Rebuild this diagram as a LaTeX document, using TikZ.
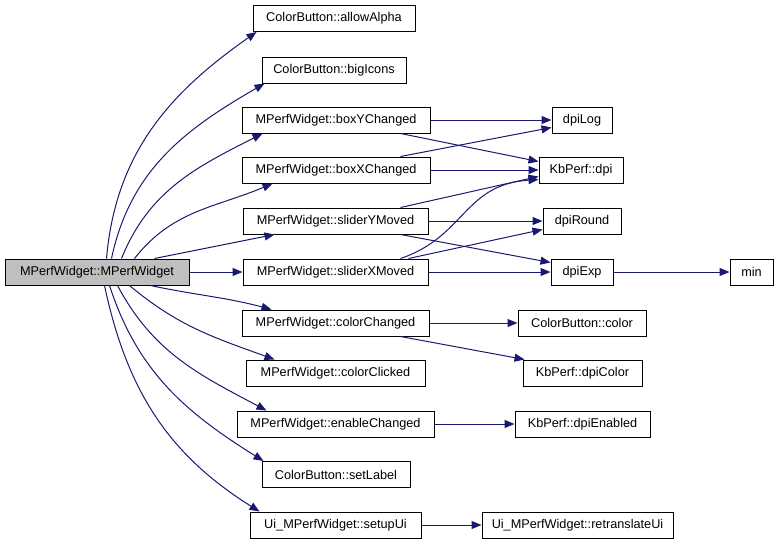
\documentclass[tikz,border=0pt]{standalone}
\usepackage{fontspec}
\setmainfont{Liberation Sans}
\usepackage{tikz}
\usetikzlibrary{arrows.meta, calc}
\definecolor{edgeblue}{HTML}{191970}
\definecolor{maingray}{HTML}{BFBFBF}

\begin{document}
\begin{tikzpicture}[
    x=1pt, y=1pt,
    every node/.style={font=\fontsize{12.7}{15}\selectfont},
    fn/.style={rectangle, draw=black, line width=1pt, fill=white,
               minimum height=26pt, inner sep=0pt},
    edge/.style={draw=edgeblue, line width=1pt,
                 -{Triangle[length=10pt, width=8pt]}},
]
\useasboundingbox (0,0) rectangle (779,-544);

% caller
\node[fn, fill=maingray, minimum width=184pt] (main) at (97,-272) {MPerfWidget::MPerfWidget};

% first level
\node[fn, minimum width=162pt] (allowAlpha)    at (334,-18.5) {ColorButton::allowAlpha};
\node[fn, minimum width=144pt] (bigIcons)      at (334,-70)   {ColorButton::bigIcons};
\node[fn, minimum width=188pt] (boxY)          at (336,-120)  {MPerfWidget::boxYChanged};
\node[fn, minimum width=188pt] (boxX)          at (336,-170)  {MPerfWidget::boxXChanged};
\node[fn, minimum width=185pt] (sliderY)       at (335.5,-221) {MPerfWidget::sliderYMoved};
\node[fn, minimum width=185pt] (sliderX)       at (335.5,-272) {MPerfWidget::sliderXMoved};
\node[fn, minimum width=187pt] (colorChanged)  at (335.5,-323) {MPerfWidget::colorChanged};
\node[fn, minimum width=179pt] (colorClicked)  at (335.5,-373) {MPerfWidget::colorClicked};
\node[fn, minimum width=197pt] (enableChanged) at (335.5,-424) {MPerfWidget::enableChanged};
\node[fn, minimum width=148pt] (setLabel)      at (336,-474.5) {ColorButton::setLabel};
\node[fn, minimum width=171pt] (setupUi)       at (335.5,-525) {Ui\_MPerfWidget::setupUi};

% second level
\node[fn, minimum width=60pt]  (dpiLog)        at (582,-120)   {dpiLog};
\node[fn, minimum width=84pt]  (dpi)           at (581,-170)   {KbPerf::dpi};
\node[fn, minimum width=78pt]  (dpiRound)      at (582,-221)   {dpiRound};
\node[fn, minimum width=62pt]  (dpiExp)        at (582,-272)   {dpiExp};
\node[fn, minimum width=128pt] (color)         at (582,-323)   {ColorButton::color};
\node[fn, minimum width=119pt] (dpiColor)      at (582.5,-373) {KbPerf::dpiColor};
\node[fn, minimum width=135pt] (dpiEnabled)    at (582.5,-424) {KbPerf::dpiEnabled};
\node[fn, minimum width=191pt] (retranslateUi) at (577.5,-525) {Ui\_MPerfWidget::retranslateUi};
\node[fn, minimum width=43pt]  (min)           at (751.5,-272) {min};

% straight calls
\foreach \a/\b in {main/sliderX, boxY/dpiLog, boxX/dpi, sliderY/dpiRound,
                   sliderX/dpiExp, dpiExp/min, colorChanged/color,
                   enableChanged/dpiEnabled, setupUi/retranslateUi}
    \draw[edge] (\a) -- (\b);

% calls from the constructor
\draw[edge] ([xshift=102pt]main.north west) to[out=85, in=215] ([xshift=4pt]allowAlpha.south west);
\draw[edge] ([xshift=107pt]main.north west) to[out=78, in=210] ([xshift=3pt]bigIcons.south west);
\draw[edge] ([xshift=117pt]main.north west) to[out=68, in=207] ([xshift=21pt]boxY.south west);
\draw[edge] ([xshift=130pt]main.north west) to[out=52, in=203] ([xshift=31pt]boxX.south west);
\draw[edge] ([xshift=-35pt]main.north east) -- ([xshift=32pt]sliderY.south west);
\draw[edge] ([xshift=-39pt]main.south east) to[out=-12, in=165] ([xshift=30pt]colorChanged.north west);
\draw[edge] ([xshift=-60pt]main.south east) to[out=-40, in=160] ([xshift=29pt]colorClicked.north west);
\draw[edge] ([xshift=113pt]main.south west) to[out=-62, in=152] ([xshift=30pt]enableChanged.north west);
\draw[edge] ([xshift=105pt]main.south west) to[out=-72, in=148] ([xshift=2pt]setLabel.north west);
\draw[edge] ([xshift=100pt]main.south west) to[out=-78, in=148] ([xshift=10pt]setupUi.north west);

% second level calls
\draw[edge] ([xshift=-30pt]boxY.south east) -- ([yshift=-5pt]dpi.north west);
\draw[edge] ([xshift=-30pt]boxX.north east) -- ([yshift=6pt]dpiLog.south west);
\draw[edge] ([xshift=-28pt]sliderY.north east) -- ([yshift=7pt]dpi.south west);
\draw[edge] ([xshift=-28pt]sliderY.south east) -- ([yshift=-4pt]dpiExp.north west);
\draw[edge] ([xshift=-28pt]sliderX.north east)
    .. controls +(65,22) and +(-75,-5) .. ([yshift=4pt]dpi.south west);
\draw[edge] ([xshift=-20pt]sliderX.north east) -- ([yshift=5pt]dpiRound.south west);
\draw[edge] ([xshift=-29pt]colorChanged.south east) -- ([xshift=2pt]dpiColor.north west);

\end{tikzpicture}
\end{document}
